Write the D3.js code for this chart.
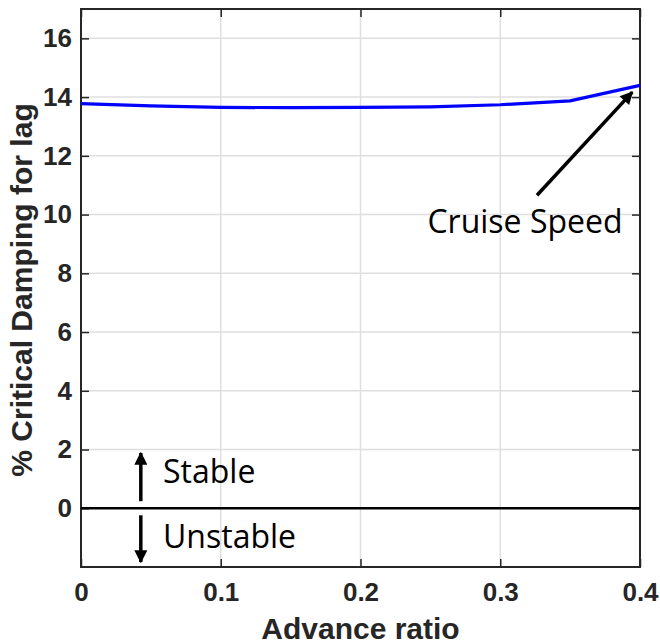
<!DOCTYPE html>
<html lang="en">
<head>
<meta charset="UTF-8">
<style>
  body { margin: 0; background: #fff; }
  svg text { font-family: "Liberation Sans", Arial, sans-serif; }
</style>
</head>
<body>
<script src="https://d3js.org/d3.v7.min.js"></script>
<div id="here"></div>
<script>
// data
const advanceRatio = [0, 0.05, 0.1, 0.15, 0.2, 0.25, 0.3, 0.35, 0.4];
const lagDamping = [13.78, 13.7, 13.65, 13.64, 13.65, 13.67, 13.74, 13.87, 14.4];
const xTicks = [0, 0.1, 0.2, 0.3, 0.4];
const yTicks = [0, 2, 4, 6, 8, 10, 12, 14, 16];

const margin = {top: 9, right: 20, bottom: 77, left: 81},
    width = 660 - margin.left - margin.right,
    height = 644 - margin.top - margin.bottom;

const svg = d3.select("#here").append("svg")
    .attr("width", 660).attr("height", 644)
  .append("g")
    .attr("transform", `translate(${margin.left},${margin.top})`);

const x = d3.scaleLinear().domain([0, 0.4]).range([0, width]);
const y = d3.scaleLinear().domain([-2, 17]).range([height, 0]);

// grid
svg.append("g").selectAll("line").data(xTicks.slice(1, -1)).join("line")
    .attr("x1", d => x(d)).attr("x2", d => x(d))
    .attr("y1", 0).attr("y2", height)
    .attr("stroke", "#dfdfdf").attr("stroke-width", 1.5);
svg.append("g").selectAll("line").data(yTicks).join("line")
    .attr("x1", 0).attr("x2", width)
    .attr("y1", d => y(d)).attr("y2", d => y(d))
    .attr("stroke", "#dfdfdf").attr("stroke-width", 1.5);

// axes (inward ticks, MATLAB style)
const tickStyle = g => {
  g.select(".domain").remove();
  g.selectAll(".tick line").attr("stroke", "#262626").attr("stroke-width", 1.5);
  g.selectAll(".tick text").attr("fill", "#262626")
    .style("font-size", "26px").style("font-weight", "bold");
};
svg.append("g").attr("transform", `translate(0,${height})`)
    .call(d3.axisBottom(x).tickValues(xTicks).tickFormat(d => d === 0 ? "0" : d3.format(".1f")(d))
      .tickSizeInner(-8).tickPadding(16))
    .call(tickStyle);
svg.append("g")
    .call(d3.axisTop(x).tickValues(xTicks).tickFormat("").tickSizeInner(-8))
    .call(tickStyle);
svg.append("g")
    .call(d3.axisLeft(y).tickValues(yTicks).tickSizeInner(-8).tickPadding(9))
    .call(tickStyle);
svg.append("g").attr("transform", `translate(${width},0)`)
    .call(d3.axisRight(y).tickValues(yTicks).tickFormat("").tickSizeInner(-8))
    .call(tickStyle);

// box
svg.append("rect").attr("width", width).attr("height", height)
    .attr("fill", "none").attr("stroke", "#262626").attr("stroke-width", 2);

// zero line
svg.append("line").attr("x1", 0).attr("x2", width)
    .attr("y1", y(0)).attr("y2", y(0))
    .attr("stroke", "#000").attr("stroke-width", 2.5);

// series
svg.append("path")
    .datum(advanceRatio.map((a, i) => [a, lagDamping[i]]))
    .attr("fill", "none").attr("stroke", "#0000ff").attr("stroke-width", 3.2)
    .attr("d", d3.line().x(d => x(d[0])).y(d => y(d[1])));

// arrow heads
svg.append("defs").append("marker").attr("id", "head")
    .attr("viewBox", "0 0 10 10").attr("refX", 9).attr("refY", 5)
    .attr("markerWidth", 17).attr("markerHeight", 13).attr("markerUnits", "userSpaceOnUse")
    .attr("orient", "auto")
  .append("path").attr("d", "M0,0 L10,5 L0,10 Z").attr("fill", "#000");

const arrow = (x1, y1, x2, y2, w) => svg.append("line")
    .attr("x1", x1).attr("y1", y1).attr("x2", x2).attr("y2", y2)
    .attr("stroke", "#000").attr("stroke-width", w)
    .attr("marker-end", "url(#head)");

const noteFont = g => g.attr("fill", "#000")
    .style("font-family", "'Open Sans', sans-serif").style("font-size", "32px");

// Cruise speed annotation
arrow(x(0.3263), y(10.66), x(0.3945), y(14.17), 3.5);
svg.append("text").attr("x", x(0.3177)).attr("y", y(9.37))
    .attr("text-anchor", "middle").call(noteFont)
    .text("Cruise Speed");

// stable / unstable
arrow(x(0.0428), y(0.24), x(0.0428), y(1.88), 3.5);
arrow(x(0.0428), y(-0.24), x(0.0428), y(-1.83), 3.5);
svg.append("text").attr("x", x(0.0587)).attr("y", y(0.85))
    .call(noteFont).text("Stable");
svg.append("text").attr("x", x(0.0587)).attr("y", y(-1.34))
    .call(noteFont).text("Unstable");

// axis labels
svg.append("text").attr("x", width / 2).attr("y", height + 72)
    .attr("text-anchor", "middle").attr("fill", "#262626")
    .style("font-size", "30px").style("font-weight", "bold")
    .text("Advance ratio");
svg.append("text")
    .attr("transform", `translate(-49,${height / 2 + 2}) rotate(-90)`)
    .attr("text-anchor", "middle").attr("fill", "#262626")
    .style("font-size", "30px").style("font-weight", "bold")
    .text("% Critical Damping for lag");
</script>
</body>
</html>
